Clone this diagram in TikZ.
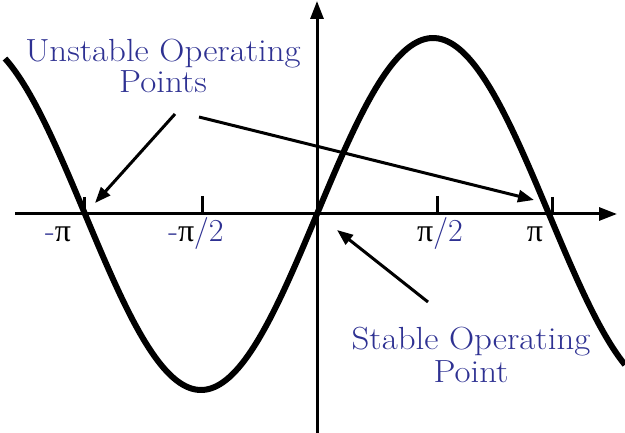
\documentclass[tikz,border=0pt]{standalone}
\usepackage{fontspec}
\usepackage{graphicx}
\newfontfamily\grk{Liberation Serif}
\usetikzlibrary{arrows.meta}
\definecolor{lblue}{RGB}{46,49,146}
\newcommand{\widetxt}[1]{\scalebox{1.09}[1]{#1}}
\begin{document}
\begin{tikzpicture}[x=1pt,y=-1pt,
  lbl/.style={text=lblue, font=\fontsize{32}{34}\selectfont, inner sep=0pt},
  axlbl/.style={font=\fontsize{32}{34}\selectfont, inner sep=0pt, anchor=base},
  ptr/.style={line width=3pt, -{Triangle[length=16pt,width=12pt]}},
  axisline/.style={line width=3pt, -{Triangle[length=18pt,width=13pt]}},
  tickmark/.style={line width=3pt},
  wave/.style={line width=6pt, line join=round}]
\useasboundingbox (0,0) rectangle (625,433);
% axes
\coordinate (xs) at (15,214);
\coordinate (xe) at (617,214);
\coordinate (ys) at (317,433);
\coordinate (ye) at (317,1);
\draw[axisline] (xs) -- (xe);
\draw[axisline] (ys) -- (ye);
% ticks
\coordinate (t1a) at (84,197);  \coordinate (t1b) at (84,214);
\coordinate (t2a) at (202,196); \coordinate (t2b) at (202,214);
\coordinate (t3a) at (437,196); \coordinate (t3b) at (437,214);
\coordinate (t4a) at (552,197); \coordinate (t4b) at (552,214);
\draw[tickmark] (t1a) -- (t1b);
\draw[tickmark] (t2a) -- (t2b);
\draw[tickmark] (t3a) -- (t3b);
\draw[tickmark] (t4a) -- (t4b);
% curve
\draw[wave] plot[domain=5:625,samples=200] (\x,{214-176*sin((\x-317)/232*180)});
% axis labels
\node[axlbl] (lmpi) at (58,242) {\textcolor{lblue}{-}{\grk π}};
\node[axlbl] (lmhalf) at (196,242) {\textcolor{lblue}{-}{\grk π}\textcolor{lblue}{/2}};
\node[axlbl] (lhalf) at (440,242) {{\grk π}\textcolor{lblue}{/2}};
\node[axlbl] (lpi) at (535,242) {{\grk π}};
% texts
\node[lbl, anchor=base] (u1) at (163,62) {\widetxt{Unstable Operating}};
\node[lbl, anchor=base] (u2) at (163,93) {\widetxt{Points}};
\node[lbl, anchor=base] (s1) at (471,350) {\widetxt{Stable Operating}};
\node[lbl, anchor=base] (s2) at (471,382) {\widetxt{Point}};
% pointers
\coordinate (a1s) at (175,114); \coordinate (a1e) at (95,203);
\coordinate (a2s) at (199,117); \coordinate (a2e) at (534,200);
\coordinate (a3s) at (428,302); \coordinate (a3e) at (337,230);
\draw[ptr] (a1s) -- (a1e);
\draw[ptr] (a2s) -- (a2e);
\draw[ptr] (a3s) -- (a3e);
\end{tikzpicture}
\end{document}
